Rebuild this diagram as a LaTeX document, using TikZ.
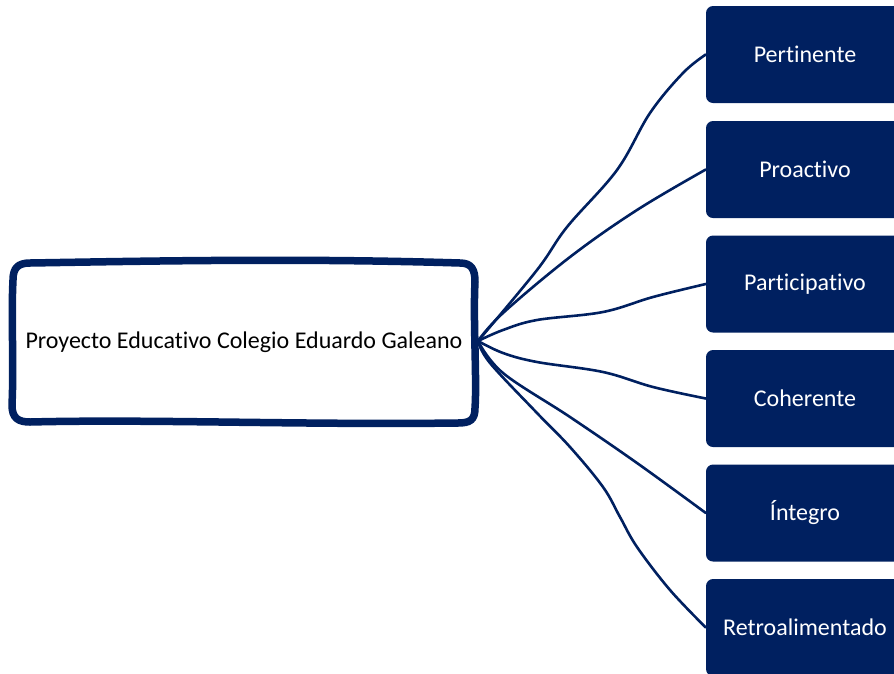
\documentclass[tikz,border=0pt]{standalone}
\usepackage{fontspec}
\setmainfont[Ligatures=NoCommon]{Carlito}
\definecolor{navy}{HTML}{002060}
\tikzset{
  leaf/.style={fill=navy, draw=none, rounded corners=7pt, minimum width=198pt, minimum height=97pt, text=white, font=\fontsize{24pt}{28pt}\selectfont, inner sep=0pt},
  link/.style={draw=navy, line width=2.6pt, line cap=round},
  hubbox/.style={draw=navy, line width=7.5pt, line join=round},
}
\begin{document}
\begin{tikzpicture}[x=1pt,y=-1pt]
\useasboundingbox (0,0) rectangle (894,673);
\clip (0,0) rectangle (894,673);
% central box
\draw[hubbox, fill=white] (13,280) .. controls (13,268) and (18,263) .. (30,263)
  .. controls (150,261) and (300,258) .. (460,263)
  .. controls (472,263) and (475,270) .. (475,282)
  .. controls (473,320) and (477,380) .. (475,408)
  .. controls (475,420) and (470,423) .. (458,423)
  .. controls (300,425) and (150,419) .. (30,422)
  .. controls (18,422) and (12,418) .. (12,405)
  .. controls (14,360) and (11,320) .. (13,280) -- cycle;
\node[minimum width=462pt, minimum height=160pt, inner sep=0pt, font=\fontsize{24pt}{28pt}\selectfont] (main) at (244,342) {Proyecto Educativo Colegio Eduardo Galeano};
% leaves
\node[leaf] (p1) at (805,54.5) {Pertinente};
\node[leaf] (p2) at (805,169.5) {Proactivo};
\node[leaf] (p3) at (805,284) {Participativo};
\node[leaf] (p4) at (805,398.5) {Coherente};
\node[leaf] (p5) at (805,513) {Íntegro};
\node[leaf] (p6) at (805,627.5) {Retroalimentado};
\coordinate (hub) at (478,341);
% connectors
\draw[link] plot[smooth, tension=0.6] coordinates {(hub) (537,270) (567,227) (617,170) (650,113) (683,73) (p1.west)};
\draw[link] plot[smooth, tension=0.6] coordinates {(hub) (503,313) (570,257) (637,210) (p2.west)};
\draw[link] plot[smooth, tension=0.6] coordinates {(hub) (503,330) (537,320) (603,312) (653,297) (p3.west)};
\draw[link] plot[smooth, tension=0.6] coordinates {(hub) (503,353) (537,362) (603,372) (653,387) (p4.west)};
\draw[link] plot[smooth, tension=0.6] coordinates {(hub) (503,373) (570,417) (637,463) (p5.west)};
\draw[link] plot[smooth, tension=0.6] coordinates {(hub) (490,363) (537,413) (570,447) (603,487) (620,517) (637,547) (670,590) (p6.west)};
\end{tikzpicture}
\end{document}
